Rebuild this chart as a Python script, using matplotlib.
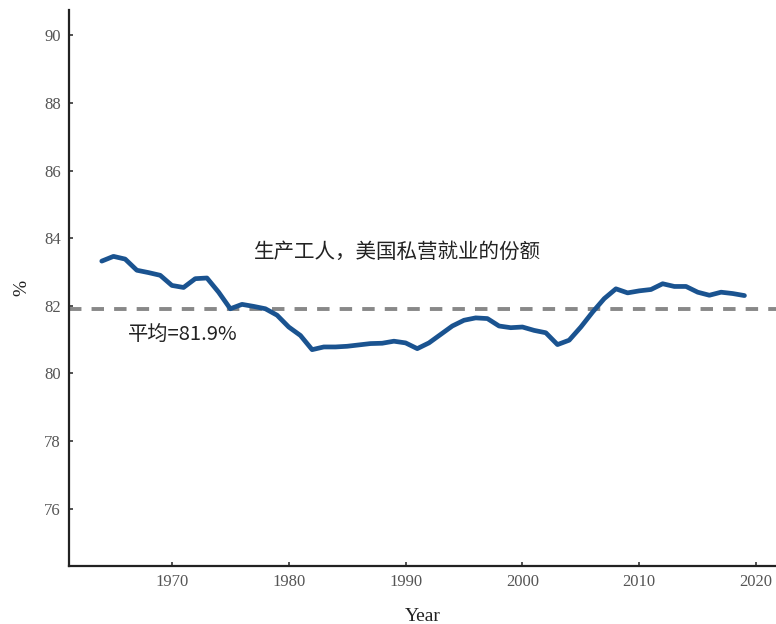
import matplotlib
matplotlib.use("Agg")
import matplotlib.pyplot as plt

# Share of production workers in US private employment (%)
years = list(range(1964, 2020))
share = [83.32, 83.46, 83.38, 83.05, 82.98, 82.90, 82.60, 82.54, 82.80, 82.82,
         82.40, 81.91, 82.04, 81.98, 81.91, 81.72, 81.37, 81.12, 80.70, 80.78,
         80.78, 80.80, 80.84, 80.88, 80.89, 80.95, 80.90, 80.73, 80.90, 81.15,
         81.40, 81.57, 81.64, 81.62, 81.40, 81.35, 81.37, 81.27, 81.20, 80.85,
         80.98, 81.37, 81.81, 82.21, 82.50, 82.38, 82.44, 82.48, 82.65, 82.57,
         82.57, 82.40, 82.31, 82.40, 82.36, 82.30]
mean_share = 81.9
y_ticks = [76, 78, 80, 82, 84, 86, 88, 90]
x_ticks = [1970, 1980, 1990, 2000, 2010, 2020]
title_txt = "生产工人，美国私营就业的份额"
mean_txt = "平均=81.9%"

cjk = ["Noto Sans CJK SC", "DejaVu Sans"]
serif = "Liberation Serif"

fig = plt.figure(figsize=(7.76, 6.24), dpi=100)
ax = fig.add_axes([0.089, 0.093, 0.911, 0.891])

ax.axhline(mean_share, color="#888888", lw=2.8, ls=(0, (3.2, 2.6)), zorder=1)
ax.plot(years, share, color="#1a5390", lw=3.4, solid_capstyle="round", zorder=2)

ax.text(1989.3, 83.58, title_txt, family=cjk, fontsize=14.8, color="#222222",
        ha="center", va="center")
ax.text(1966.2, 81.15, mean_txt, family=cjk, fontsize=14.6, color="#222222",
        ha="left", va="center")

ax.set_xlim(1961.2, 2021.7)
ax.set_ylim(74.3, 90.75)
ax.set_xticks(x_ticks)
ax.set_yticks(y_ticks)

for s in ["top", "right"]:
    ax.spines[s].set_visible(False)
for s in ["left", "bottom"]:
    ax.spines[s].set_color("#222222")
    ax.spines[s].set_linewidth(1.6)

ax.tick_params(direction="in", length=3, width=1.2, color="#333333",
               labelcolor="#555555", labelsize=12, pad=6)
for lab in ax.get_xticklabels() + ax.get_yticklabels():
    lab.set_family(serif)

ax.set_xlabel("Year", family=serif, fontsize=14, color="#222222", labelpad=12.5)
ax.set_ylabel("%", family=serif, fontsize=14, color="#222222", labelpad=10)

fig.savefig("out.png", dpi=100)
